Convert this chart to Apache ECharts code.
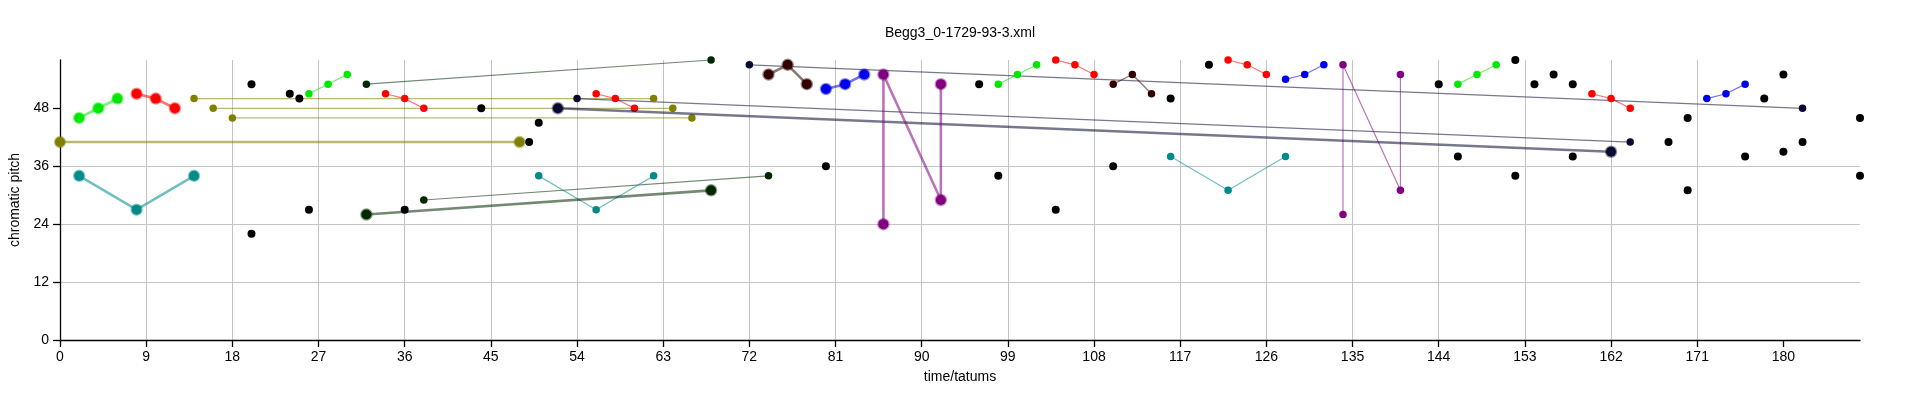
<!DOCTYPE html>
<html>
<head>
<meta charset="utf-8">
<script src="https://cdn.jsdelivr.net/npm/echarts@6/dist/echarts.min.js"></script>
<style>
html,body{margin:0;padding:0;background:#fff;}
#chart{width:1920px;height:401px;}
</style>
</head>
<body>
<div id="chart"></div>
<script>
// ---- data ----
const xTicks = [0,9,18,27,36,45,54,63,72,81,90,99,108,117,126,135,144,153,162,171,180];
const yTicks = [0,12,24,36,48];

// big (primary) voices
const bigGreen  = [[2,46],[4,48],[6,50]];
const bigRed    = [[8,51],[10,50],[12,48]];
const bigTeal   = [[2,34],[8,27],[14,34]];
const bigOlive  = [[0,41],[48,41]];
const bigDkGreen= [[32,26],[68,31]];
const bigNavy   = [[52,48],[162,39]];
const bigBrown  = [[74,55],[76,57],[78,53]];
const bigBlue   = [[80,52],[82,53],[84,55]];
const bigPurple = [[86,24],[86,55],[92,29],[92,53]];

// small (secondary) voices
const smGreen1 = [[26,51],[28,53],[30,55]];
const smGreen2 = [[98,53],[100,55],[102,57]];
const smGreen3 = [[146,53],[148,55],[150,57]];
const smRed1 = [[34,51],[36,50],[38,48]];
const smRed2 = [[56,51],[58,50],[60,48]];
const smRed3 = [[104,58],[106,57],[108,55]];
const smRed4 = [[122,58],[124,57],[126,55]];
const smRed5 = [[160,51],[162,50],[164,48]];
const smOlive1 = [[14,50],[62,50]];
const smOlive2 = [[16,48],[64,48]];
const smOlive3 = [[18,46],[66,46]];
const smDkGreen1 = [[32,53],[68,58]];
const smDkGreen2 = [[38,29],[74,34]];
const smNavy1 = [[54,50],[164,41]];
const smNavy2 = [[72,57],[182,48]];
const smTeal1 = [[50,34],[56,27],[62,34]];
const smTeal2 = [[116,38],[122,31],[128,38]];
const smBrown = [[110,53],[112,55],[114,51]];
const smBlue1 = [[128,54],[130,55],[132,57]];
const smBlue2 = [[172,50],[174,51],[176,53]];
const smPurple = [[134,26],[134,57],[140,31],[140,55]];

// unconnected notes
const blackNotes = [[20,53],[20,22],[24,51],[25,50],[26,27],[36,27],[44,48],[49,41],[50,45],
  [80,36],[96,53],[98,34],[104,27],[110,36],[116,50],[120,57],[144,53],[146,38],[152,58],[152,34],
  [154,53],[156,55],[158,53],[158,38],[168,41],[170,46],[170,31],[176,38],[178,50],[180,55],
  [180,39],[182,41],[188,46],[188,34]];

// ---- styling ----
const C = {
  green:[0,232,0], red:[255,0,0], teal:[0,139,139], olive:[128,128,0],
  dkgreen:[0,40,0], navy:[10,10,48], brown:[51,0,0], blue:[0,0,235], purple:[128,0,128]
};
function rgba(c,a){return 'rgba('+c[0]+','+c[1]+','+c[2]+','+a+')';}
function voice(pts, col, big){
  return {
    type:'line', data:pts, symbol:'circle',
    symbolSize: big ? 10 : 7.5,
    showSymbol:true, animation:false, silent:true,
    lineStyle:{color: rgba(col, big?0.55:0.55), width: big?2.6:1.2},
    itemStyle:{color: rgba(col,1), borderColor: rgba(col,0.45), borderWidth: big?2.5:0, opacity:1},
    z: big?3:2
  };
}
const series = [
  voice(bigGreen,C.green,true), voice(bigRed,C.red,true), voice(bigTeal,C.teal,true),
  voice(bigOlive,C.olive,true), voice(bigDkGreen,C.dkgreen,true), voice(bigNavy,C.navy,true),
  voice(bigBrown,C.brown,true), voice(bigBlue,C.blue,true), voice(bigPurple,C.purple,true),
  voice(smGreen1,C.green,false), voice(smGreen2,C.green,false), voice(smGreen3,C.green,false),
  voice(smRed1,C.red,false), voice(smRed2,C.red,false), voice(smRed3,C.red,false),
  voice(smRed4,C.red,false), voice(smRed5,C.red,false),
  voice(smOlive1,C.olive,false), voice(smOlive2,C.olive,false), voice(smOlive3,C.olive,false),
  voice(smDkGreen1,C.dkgreen,false), voice(smDkGreen2,C.dkgreen,false),
  voice(smNavy1,C.navy,false), voice(smNavy2,C.navy,false),
  voice(smTeal1,C.teal,false), voice(smTeal2,C.teal,false),
  voice(smBrown,C.brown,false), voice(smBlue1,C.blue,false), voice(smBlue2,C.blue,false),
  voice(smPurple,C.purple,false),
  {type:'scatter', data:blackNotes, symbol:'circle', symbolSize:8, itemStyle:{color:'#000', opacity:1}, animation:false, silent:true, z:4}
];

const font = 'Liberation Sans, Arial, Helvetica, sans-serif';
const chart = echarts.init(document.getElementById('chart'), null, {renderer:'canvas'});
chart.setOption({
  animation:false,
  backgroundColor:'#fff',
  title:{text:'Begg3_0-1729-93-3.xml', left:'center', top:21,
    textStyle:{fontFamily:font, fontSize:14, fontWeight:'normal', color:'#000'}},
  grid:{left:60, right:60, top:60, bottom:61},
  xAxis:{
    type:'value', min:0, max:188, interval:9,
    name:'time/tatums', nameLocation:'middle', nameGap:30,
    nameTextStyle:{fontFamily:font, fontSize:14, color:'#000'},
    axisLine:{show:true, onZero:false, lineStyle:{color:'#000', width:1.3}},
    axisTick:{show:true, length:7, lineStyle:{color:'#000', width:1.3}, customValues:xTicks},
    axisLabel:{fontFamily:font, fontSize:14, color:'#000', margin:10, customValues:xTicks},
    splitLine:{show:true, showMinLine:false, showMaxLine:false, lineStyle:{color:'#c4c4c4', width:1}}
  },
  yAxis:{
    type:'value', min:0, max:58, interval:12,
    name:'chromatic pitch', nameLocation:'middle', nameGap:29, nameRotate:90,
    nameTextStyle:{fontFamily:font, fontSize:14, color:'#000'},
    axisLine:{show:true, onZero:false, lineStyle:{color:'#000', width:1.3}},
    axisTick:{show:true, length:7, lineStyle:{color:'#000', width:1.3}, customValues:yTicks},
    axisLabel:{fontFamily:font, fontSize:14, color:'#000', margin:11, customValues:yTicks},
    splitLine:{show:true, showMinLine:false, showMaxLine:false, lineStyle:{color:'#c4c4c4', width:1}}
  },
  series: series
});
</script>
</body>
</html>
